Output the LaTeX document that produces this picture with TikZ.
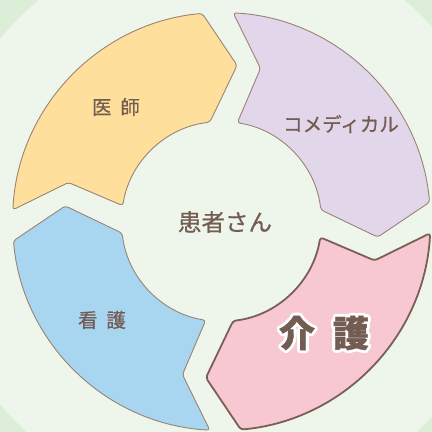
\documentclass[tikz,border=0pt]{standalone}
\usepackage{fontspec}
\newfontfamily\jpm[FakeBold=0.6]{Noto Sans CJK JP}
\newfontfamily\jpb[FakeBold=1.2]{Noto Sans CJK JP}
\definecolor{bgout}{HTML}{DCEDD8}
\definecolor{bgin}{HTML}{EEF6EC}
\definecolor{cOr}{HTML}{FEDF9C}
\definecolor{cPu}{HTML}{E2D6EA}
\definecolor{cPi}{HTML}{F7C8D2}
\definecolor{cBl}{HTML}{A8D5F0}
\definecolor{edge}{HTML}{9B8373}
\definecolor{edgedark}{HTML}{7A5F55}
\definecolor{txt}{HTML}{735D52}
\tikzset{
  segthin/.style={draw=edge, line width=0.9pt, line join=round},
  segthick/.style={draw=edgedark, line width=1.8pt, line join=round},
  lab/.style={text=txt, font=\jpm\fontsize{19.5}{19.5}\selectfont, inner sep=0pt},
  center/.style={text=txt, font=\jpm\fontsize{23.5}{23.5}\selectfont, inner sep=0pt},
  kaigo/.style={text=txt, font=\jpb\bfseries\fontsize{36}{36}\selectfont, inner sep=0pt}
}
\begin{document}
\begin{tikzpicture}[x=1pt,y=1pt]
\useasboundingbox (0,0) rectangle (432,432);
\fill[bgout] (0,0) rectangle (432,432);
\coordinate (C) at (221.5,210.5);
\fill[bgin] (C) circle[radius=287];
\begin{scope}[shift={(C)}]
\foreach \o/\col/\st in {0/cOr/segthin, 90/cPu/segthin, 270/cBl/segthin, 180/cPi/segthick}{
  \draw[\st, fill=\col, rounded corners=3pt]
    ({176.8-\o}:209) arc[start angle={176.8-\o}, end angle={95.3-\o}, radius=209]
    -- ({84.3-\o}:157) -- ({96.7-\o}:100)
    arc[start angle={96.7-\o}, end angle={170.9-\o}, radius=100]
    -- ({165.7-\o}:158) -- cycle;
}
\end{scope}
\node[lab] (ishi) at (116,325) {医\hspace{0.45em}師};
\node[lab] (comed) at (341,308) {コメディカル};
\node[center] (kanja) at (225,210) {患者さん};
\node[lab] (kango) at (102,112) {看\hspace{0.45em}護};
\coordinate (K) at (324,99);
\foreach \a in {0,22.5,...,340}{
  \node[kaigo, text=white] (halo\a) at ([shift={(\a:2.8)}]K) {介\hspace{0.5em}護};
}
\node[kaigo] (kaigo) at (K) {介\hspace{0.5em}護};
\end{tikzpicture}
\end{document}
